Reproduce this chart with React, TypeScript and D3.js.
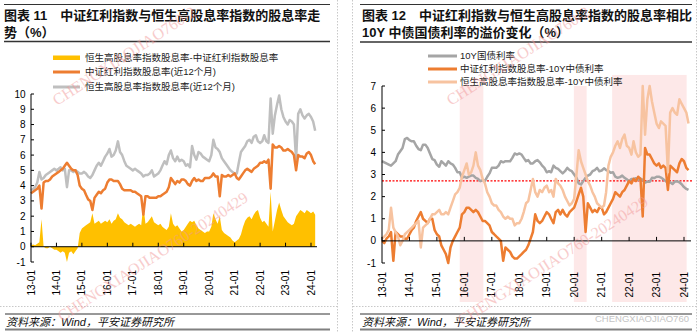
import React from "react";
import * as d3 from "d3";

// ---------------- DATA (monthly, 2013-01 .. 2024-03) ----------------
const startMonth = new Date(2013, 0, 1);

// Left chart: 恒生高股息率指数股息率(近12个月)
const hsYield = [
  3.7, 3.8, 3.9, 4.2, 4.9, 4.4, 4.5, 4.7, 4.8, 4.9, 5.0, 5.1,
  5.0, 5.1, 5.2, 5.0, 5.1, 3.9, 5.0, 5.0, 4.9, 5.0, 4.9, 4.8,
  4.8, 4.9, 4.8, 4.6, 4.5, 4.7, 5.0, 5.3, 5.5, 5.3, 5.6, 5.9,
  6.1, 6.4, 5.9, 6.0, 6.3, 6.9, 6.2, 6.0, 5.6, 5.3, 5.2, 5.1,
  5.0, 5.1, 5.0, 4.9, 4.8, 4.6, 4.7, 4.7, 4.8, 5.0, 4.6, 4.7,
  4.8, 5.0, 5.3, 5.6, 5.4, 6.0, 6.3, 5.8, 5.6, 5.9, 5.6, 5.7,
  5.6, 5.3, 5.4, 5.2, 6.6, 6.0, 5.7, 6.2, 6.1, 5.9, 5.8, 5.7,
  5.6, 6.0, 7.0, 6.5, 6.4, 6.2, 5.8, 5.6, 5.4, 5.2, 5.0, 4.9,
  4.8, 4.8, 5.5, 6.2, 6.4, 6.6, 6.9, 7.0, 6.8, 7.2, 7.3, 6.9,
  6.8, 6.9, 7.3, 6.9, 6.8, 9.7, 7.4, 8.6, 9.3, 9.9, 9.0, 8.5,
  8.2, 8.0, 8.3, 8.2, 8.0, 5.7, 8.7, 9.0, 8.6, 8.4, 8.6, 8.7,
  8.5, 8.2, 7.6,
];

// Left chart: 中证红利指数股息率(近12个月)
const csiYield = [
  3.5, 3.6, 3.7, 3.8, 4.0, 2.5, 4.2, 4.3, 4.3, 4.4, 4.6, 4.7,
  4.8, 4.9, 5.0, 5.1, 5.3, 5.5, 5.3, 5.1, 5.0, 5.0, 4.7, 4.0,
  3.8, 3.7, 3.4, 3.1, 3.0, 2.4, 3.2, 3.4, 3.6, 3.5, 3.7, 3.8,
  4.2, 4.4, 4.4, 4.3, 4.3, 4.3, 4.1, 3.8, 3.7, 3.7, 3.7, 3.7,
  3.6, 3.6, 3.5, 3.4, 3.3, 2.1, 3.3, 3.3, 3.2, 3.2, 3.2, 3.2,
  3.3, 3.3, 3.4, 3.5, 3.6, 3.9, 4.5, 4.3, 4.1, 4.3, 4.2, 4.4,
  4.4, 4.3, 4.1, 4.0, 4.3, 4.5, 4.3, 4.4, 4.3, 4.3, 4.5, 4.5,
  4.5, 4.6, 4.8, 4.6, 4.6, 3.3, 4.7, 4.6, 4.6, 4.7, 4.6, 4.7,
  4.8, 4.5, 4.4, 4.6, 4.8, 5.0, 5.1, 5.0, 4.9, 5.1, 5.2, 5.3,
  5.5, 5.5, 5.6, 5.5, 5.7, 3.8, 6.7, 6.5, 6.5, 6.6, 6.5, 6.3,
  6.3, 6.4, 6.3, 6.2, 6.0, 5.0, 6.0, 5.9, 5.9, 5.8, 6.1, 6.2,
  6.0, 5.6, 5.4,
];

// Left chart: 恒生高股息率指数股息率-中证红利指数股息率
const hsMinusCsi = [
  0.1, 0.15, 0.1, 0.2, 0.3, 1.8, 0.0, -0.1, -0.1, 0.0, -0.1, -0.2,
  -0.2, -0.3, -0.4, -0.3, -0.4, -1.0, -0.4, -0.3, -0.5, -0.3, -0.1, 0.9,
  1.2, 1.3, 1.4, 1.5, 1.6, 2.2, 1.5, 1.6, 1.7, 1.5, 1.6, 1.7,
  1.6, 1.8, 1.5, 1.7, 1.8, 2.2, 1.9, 1.8, 1.6, 1.5, 1.4, 1.5,
  1.4, 1.3, 1.4, 1.5, 1.4, 2.7, 1.5, 1.6, 1.8, 2.0, 1.6, 1.5,
  1.4, 1.5, 1.3, 1.2, 1.1, 1.3, 2.2, 1.5, 1.3, 1.4, 1.2, 1.0,
  1.1, 1.3, 1.5, 1.7, 1.6, 1.7, 1.4, 1.2, 1.1, 1.0, 0.9, 1.0,
  1.0, 1.3, 2.2, 1.8, 1.5, 2.0, 1.1, 0.9, 0.8, 0.7, 0.6, 0.4,
  0.3, 0.4, 0.5, 0.8, 1.3, 1.7, 1.9, 2.0, 1.8, 2.1, 2.3, 2.4,
  1.9, 1.6, 1.7, 1.5, 1.3, 3.6, 1.0, 1.7, 2.4, 2.9, 2.4, 2.0,
  1.8, 1.6, 1.5, 1.4, 1.5, 2.0, 2.2, 2.4, 2.3, 2.2, 2.4, 2.3,
  2.2, 2.3, 2.1,
];

// Right chart: 10Y国债利率
const cgb10y = [
  3.6, 3.55, 3.5, 3.45, 3.4, 3.5, 3.6, 3.9, 4.05, 4.2, 4.6, 4.65,
  4.55, 4.5, 4.5, 4.3, 4.15, 4.1, 4.35, 4.35, 4.2, 3.95, 3.7, 3.65,
  3.45, 3.35, 3.6, 3.5, 3.4, 3.6, 3.5, 3.45, 3.3, 3.1, 3.1, 2.85,
  2.9, 2.85, 2.9, 2.95, 2.95, 2.85, 2.8, 2.7, 2.75, 2.7, 2.9, 3.05,
  3.3, 3.3, 3.3, 3.4, 3.6, 3.55, 3.6, 3.6, 3.6, 3.75, 3.95, 3.9,
  3.95, 3.9, 3.75, 3.6, 3.65, 3.5, 3.5, 3.6, 3.65, 3.55, 3.4, 3.3,
  3.1, 3.15, 3.1, 3.4, 3.3, 3.25, 3.15, 3.05, 3.15, 3.3, 3.2, 3.15,
  3.0, 2.85, 2.6, 2.55, 2.7, 2.85, 2.95, 3.0, 3.15, 3.2, 3.3, 3.15,
  3.18, 3.28, 3.2, 3.16, 3.08, 3.1, 2.9, 2.85, 2.88, 2.95, 2.85, 2.78,
  2.7, 2.8, 2.8, 2.83, 2.75, 2.82, 2.76, 2.63, 2.68, 2.67, 2.85, 2.84,
  2.9, 2.9, 2.86, 2.78, 2.7, 2.64, 2.65, 2.57, 2.68, 2.69, 2.65, 2.56,
  2.43, 2.35, 2.3,
];

// Right chart: 中证红利指数股息率-10Y中债利率
const csiMinus10y = [
  0.0, -0.1, 0.1, 0.2, 0.4, -0.9, 0.4, 0.3, 0.2, 0.2, 0.1, 0.1,
  0.3, 0.5, 0.6, 0.9, 1.1, 1.3, 1.0, 0.9, 0.8, 1.0, 1.0, 0.5,
  0.3, 0.2, -0.2, -0.4, -0.6, -1.0, -0.3, 0.0, 0.2, 0.4, 0.6, 1.2,
  1.3, 1.5, 1.5, 1.4, 1.3, 1.4, 1.3, 1.1, 0.9, 0.9, 0.8, 0.7,
  0.4, 0.3, 0.2, 0.1, 0.0, -0.9, -0.3, -0.4, -0.5, -0.7, -0.8, -0.8,
  -0.7, -0.6, -0.5, -0.4, -0.2, 0.1, 0.4, 1.2, 0.9, 0.8, 0.9, 1.1,
  1.3, 1.2, 1.0, 0.8, 1.3, 1.4, 1.2, 1.4, 1.2, 1.1, 1.3, 1.4,
  1.5, 1.8, 2.1, 2.4, 2.0, 0.4, 1.7, 1.5, 1.3, 1.4, 1.3, 1.5,
  1.5, 1.2, 1.3, 1.5, 1.7, 1.9, 2.2, 2.1, 2.0, 2.2, 2.3, 2.5,
  2.7, 2.6, 2.8, 2.7, 2.9, 2.8, 1.1, 4.2, 3.9, 3.9, 3.7, 3.5,
  3.4, 3.5, 3.3, 3.4, 3.3, 2.3, 3.4, 3.3, 3.2, 3.1, 3.5, 3.7,
  3.6, 3.3, 3.2,
];

// Right chart: 恒生高股息率指数股息率-10Y中债利率
const hsMinus10y = [
  0.1, 0.2, 0.3, 0.5, 1.5, 0.6, 0.4, 0.2, -0.2, 0.0, 0.3, 0.4,
  0.5, 0.6, 0.7, 0.8, 0.9, -0.3, 0.6, 0.7, 0.8, 1.0, 1.2, 1.2,
  1.3, 1.4, 1.2, 1.2, 1.3, 1.2, 1.5, 1.8, 2.1, 2.2, 2.4, 2.9,
  3.2, 3.5, 3.0, 3.1, 3.4, 4.0, 3.4, 3.2, 2.8, 2.6, 2.2, 2.0,
  1.7, 1.6, 1.6, 1.4, 1.3, 1.1, 1.0, 1.1, 1.0, 1.0, 0.7, 0.8,
  0.8, 1.0, 1.3, 1.7, 1.8, 2.3, 2.8, 2.2, 2.0, 2.3, 2.2, 2.4,
  2.5, 2.2, 2.3, 2.0, 2.8, 2.6, 2.5, 2.3, 2.0, 1.8, 1.6, 1.7,
  1.9, 3.0, 4.1, 3.6, 3.3, 3.0, 2.7, 2.5, 2.2, 2.0, 1.7, 1.6,
  1.5, 1.6, 2.2, 3.4, 3.8, 4.0, 4.3, 4.5, 4.2, 4.6, 4.8, 4.3,
  4.2, 3.9, 4.5, 4.0, 3.8, 3.9, 7.0, 4.8, 6.4, 7.0, 6.3, 5.8,
  5.3, 5.1, 5.4, 5.3, 5.2, 3.1, 5.8, 6.0, 5.8, 5.7, 6.4, 6.2,
  6.0, 5.8, 5.3,
];

const xTickLabels = ["13-01", "14-01", "15-01", "16-01", "17-01", "18-01", "19-01", "20-01", "21-01", "22-01", "23-01", "24-01"];
const leftYTicks = [-1, 0, 1, 2, 3, 4, 5, 6, 7, 8, 9, 10];
const rightYTicks = [-1, 0, 1, 2, 3, 4, 5, 6, 7];

// Shaded periods on right chart
const shadeStart = ["2015-11-01", "2019-12-28", "2021-05-20"];
const shadeEnd = ["2016-09-10", "2020-06-15", "2024-02-05"];
const shadeTopValue = [7.0, 7.0, 7.5];
const premiumLevel = 2.71;

const leftLegend = ["恒生高股息率指数股息率-中证红利指数股息率", "中证红利指数股息率(近12个月)", "恒生高股息率指数股息率(近12个月)"];
const rightLegend = ["10Y国债利率", "中证红利指数股息率-10Y中债利率", "恒生高股息率指数股息率-10Y中债利率"];

const watermark = "CHENGXIAOJIAO760-20240429";
const watermarkTopPart = "CHENGXIAOJIAO760-2";

// ---------------- STYLE ----------------
const FONT = "'Liberation Sans', Arial, 'Noto Sans CJK SC', sans-serif";
const CJK = "'Liberation Sans', 'Noto Sans CJK SC', sans-serif";
const C_YELLOW = "#FFC000";
const C_ORANGE = "#ED7D31";
const C_GRAY_L = "#BFBFBF";
const C_GRAY_R = "#A5A5A5";
const C_PEACH = "#F7C3A0";

const dates = hsYield.map((_, i) => d3.timeMonth.offset(startMonth, i));
const tickDates = xTickLabels.map((s) => new Date(2000 + +s.slice(0, 2), +s.slice(3) - 1, 1));
const pd = (s: string) => new Date(s + "T00:00:00");

export default function App() {
  // left scales
  const xL = d3.scaleTime().domain([new Date(2013, 0, 1), new Date(2024, 0, 1)]).range([31, 311]);
  const yL = d3.scaleLinear().domain([-1, 10]).range([262, 94]);
  // right scales
  const xR = d3.scaleTime().domain([new Date(2013, 0, 1), new Date(2024, 0, 1)]).range([382, 684]);
  const yR = d3.scaleLinear().domain([-1, 7]).range([263, 86]);

  const lineL = (vals: number[]) =>
    d3.line<number>().x((_, i) => xL(dates[i])).y((v) => yL(v))(vals) || "";
  const lineR = (vals: number[]) =>
    d3.line<number>().x((_, i) => xR(dates[i])).y((v) => yR(v))(vals) || "";
  const areaL =
    d3.area<number>().x((_, i) => xL(dates[i])).y0(yL(0)).y1((v) => yL(v))(hsMinusCsi) || "";

  const wm = (x: number, y: number, key: string, txt: string) => (
    <text key={key} transform={`translate(${x},${y}) rotate(-33)`} fontFamily="'Liberation Serif', serif"
      fontSize={16} fill="#F29A9A" opacity={0.5}>{txt}</text>
  );

  return (
    <svg width={700} height={332} style={{ position: "absolute", left: 0, top: 0, background: "#fff" }}>
      <rect x={0} y={0} width={700} height={332} fill="#fff" />
      {/* table borders (dotted) */}
      <g stroke="#C8C8C8" strokeWidth={1} strokeDasharray="1.5,1.5">
        <line x1={337.5} y1={0} x2={337.5} y2={332} />
        <line x1={352.5} y1={0} x2={352.5} y2={332} />
        <line x1={696.5} y1={0} x2={696.5} y2={332} />
        <line x1={0} y1={306.5} x2={337} y2={306.5} />
        <line x1={353} y1={306.5} x2={696} y2={306.5} />
      </g>

      {/* Titles */}
      <line x1={4} y1={4.5} x2={330} y2={4.5} stroke="#333" strokeWidth={1} />
      <line x1={4} y1={41.5} x2={330} y2={41.5} stroke="#333" strokeWidth={1.3} />
      <text x={4} y={20} fontFamily={CJK} fontSize={13} fontWeight="bold" fill="#111">图表 11　中证红利指数与恒生高股息率指数的股息率走</text>
      <text x={4} y={36.5} fontFamily={CJK} fontSize={13} fontWeight="bold" fill="#111">势（%）</text>

      <line x1={360} y1={4.5} x2={692} y2={4.5} stroke="#333" strokeWidth={1} />
      <line x1={360} y1={42} x2={692} y2={42} stroke="#333" strokeWidth={1.3} />
      <text x={362} y={20} fontFamily={CJK} fontSize={13} fontWeight="bold" fill="#111">图表 12　中证红利指数与恒生高股息率指数的股息率相比</text>
      <text x={362} y={37} fontFamily={CJK} fontSize={13} fontWeight="bold" fill="#111">10Y 中债国债利率的溢价变化（%）</text>

      {/* ---------- LEFT CHART ---------- */}
      <path d={areaL} fill={C_YELLOW} />
      <path d={lineL(hsYield)} fill="none" stroke={C_GRAY_L} strokeWidth={2.5} strokeLinejoin="round" />
      <path d={lineL(csiYield)} fill="none" stroke={C_ORANGE} strokeWidth={2.5} strokeLinejoin="round" />

      {/* left axes */}
      <line x1={31} y1={yL(10)} x2={31} y2={yL(-1)} stroke="#000" strokeWidth={1} />
      {leftYTicks.map((t) => (
        <g key={"ly" + t}>
          <line x1={31} y1={yL(t)} x2={34} y2={yL(t)} stroke="#000" strokeWidth={1} />
          <text x={25.5} y={yL(t)} dy="0.35em" textAnchor="end" fontFamily={FONT} fontSize={10} fill="#000">{t}</text>
        </g>
      ))}
      <line x1={31} y1={yL(0)} x2={317} y2={yL(0)} stroke="#000" strokeWidth={1} />
      {tickDates.map((d, i) => (
        <g key={"lx" + i}>
          <line x1={xL(d)} y1={yL(0)} x2={xL(d)} y2={yL(0) - 4} stroke="#000" strokeWidth={1} />
          <text x={xL(d) + 3.5} y={270} textAnchor="end" transform={`rotate(-90, ${xL(d) + 3.5}, 270)`}
            fontFamily={FONT} fontSize={10} fill="#000">{xTickLabels[i]}</text>
        </g>
      ))}

      {/* left legend */}
      <rect x={53} y={55.5} width={27} height={4.5} fill={C_YELLOW} />
      <line x1={53} y1={72} x2={80} y2={72} stroke={C_ORANGE} strokeWidth={3} />
      <line x1={53} y1={87} x2={80} y2={87} stroke={C_GRAY_L} strokeWidth={3} />
      {leftLegend.map((s, i) => (
        <text key={"ll" + i} x={85} y={[58, 72, 87][i]} dy="0.35em" fontFamily={CJK} fontSize={9.5} fill="#222">{s}</text>
      ))}

      {/* ---------- RIGHT CHART ---------- */}
      {shadeStart.map((s, i) => (
        <rect key={"sh" + i} x={xR(pd(s))} y={yR(shadeTopValue[i])}
          width={xR(pd(shadeEnd[i])) - xR(pd(s))} height={302 - yR(shadeTopValue[i])} fill="#FDE8E8" />
      ))}
      <line x1={382} y1={yR(premiumLevel)} x2={692} y2={yR(premiumLevel)} stroke="#FF0000" strokeWidth={1.3} strokeDasharray="2,1.5" />
      <path d={lineR(cgb10y)} fill="none" stroke={C_GRAY_R} strokeWidth={2.5} strokeLinejoin="round" />
      <path d={lineR(csiMinus10y)} fill="none" stroke={C_ORANGE} strokeWidth={2.5} strokeLinejoin="round" />
      <path d={lineR(hsMinus10y)} fill="none" stroke={C_PEACH} strokeWidth={2.5} strokeLinejoin="round" />

      {/* right axes */}
      <line x1={382} y1={yR(7)} x2={382} y2={yR(-1)} stroke="#000" strokeWidth={1} />
      {rightYTicks.map((t) => (
        <g key={"ry" + t}>
          <line x1={382} y1={yR(t)} x2={385} y2={yR(t)} stroke="#000" strokeWidth={1} />
          <text x={376} y={yR(t)} dy="0.35em" textAnchor="end" fontFamily={FONT} fontSize={10} fill="#000">{t}</text>
        </g>
      ))}
      <line x1={382} y1={yR(0)} x2={691} y2={yR(0)} stroke="#000" strokeWidth={1} />
      {tickDates.map((d, i) => (
        <g key={"rx" + i}>
          <line x1={xR(d)} y1={yR(0)} x2={xR(d)} y2={yR(0) - 4} stroke="#000" strokeWidth={1} />
          <text x={xR(d) + 3.5} y={272} textAnchor="end" transform={`rotate(-90, ${xR(d) + 3.5}, 272)`}
            fontFamily={FONT} fontSize={10} fill="#000">{xTickLabels[i]}</text>
        </g>
      ))}

      {/* right legend */}
      <line x1={428} y1={56} x2={457} y2={56} stroke={C_GRAY_R} strokeWidth={3} />
      <line x1={428} y1={69} x2={457} y2={69} stroke={C_ORANGE} strokeWidth={3} />
      <line x1={428} y1={82} x2={457} y2={82} stroke={C_PEACH} strokeWidth={3} />
      {rightLegend.map((s, i) => (
        <text key={"rl" + i} x={460} y={[56, 69, 82][i]} dy="0.35em" fontFamily={CJK} fontSize={9.5} fill="#222">{s}</text>
      ))}

      {/* sources */}
      <line x1={5} y1={314} x2={330} y2={314} stroke="#333" strokeWidth={1} />
      <line x1={5} y1={329.5} x2={330} y2={329.5} stroke="#808080" strokeWidth={2} />
      <text x={6} y={325.5} fontFamily={CJK} fontSize={11} fontStyle="italic" fill="#111">资料来源：Wind，平安证券研究所</text>
      <line x1={360} y1={314} x2={692} y2={314} stroke="#333" strokeWidth={1} />
      <line x1={360} y1={329.5} x2={692} y2={329.5} stroke="#808080" strokeWidth={2} />
      <text x={362} y={325.5} fontFamily={CJK} fontSize={11} fontStyle="italic" fill="#111">资料来源：Wind，平安证券研究所</text>
      <text x={595} y={322} fontFamily={FONT} fontSize={9.5} fill="#C4C4C4">CHENGXIAOJIAO760</text>

      {/* watermarks */}
      {wm(57, 106, "w1", watermarkTopPart)}
      {wm(62, 322, "w2", watermark)}
      {wm(451, 106, "w3", watermarkTopPart)}
      {wm(462, 326, "w4", watermark)}
    </svg>
  );
}
